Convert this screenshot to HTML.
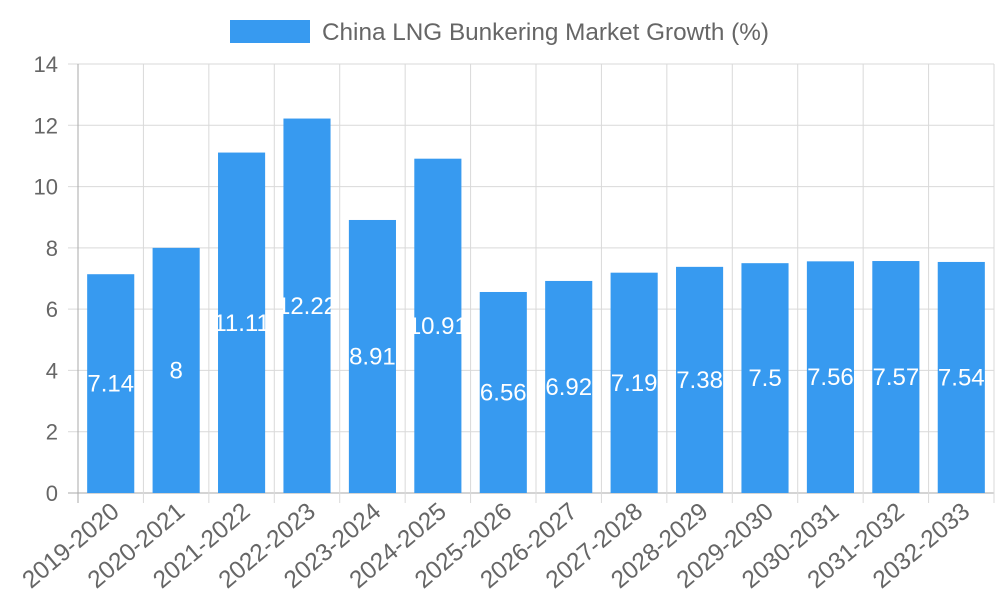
<!DOCTYPE html>
<html><head><meta charset="utf-8"><style>
body{margin:0;background:#fff;}
svg{display:block;font-family:"Liberation Sans",sans-serif;}
</style></head><body>
<svg id="chart" width="1000" height="600">
<g>
<rect x="230" y="20" width="80" height="23" fill="#379AF0"></rect>
<text x="322" y="40" font-size="24.3" fill="#666">China LNG Bunkering Market Growth (%)</text>
</g>
<g id="grid"></g>
<g id="bars"></g>
<g id="xlabels"></g>
<g id="ylabels"></g>
</svg>
<script>
const categories=["2019-2020","2020-2021","2021-2022","2022-2023","2023-2024","2024-2025","2025-2026","2026-2027","2027-2028","2028-2029","2029-2030","2030-2031","2031-2032","2032-2033"];
const values=[7.14,8,11.11,12.22,8.91,10.91,6.56,6.92,7.19,7.38,7.5,7.56,7.57,7.54];
const yTicks=[0,2,4,6,8,10,12,14];
const NS="http://www.w3.org/2000/svg";
const L=78,R=994,T=64,B=493,yMax=14;
const cw=(R-L)/categories.length;
const y=v=>B-(v/yMax)*(B-T);
const xc=i=>L+cw*(i+0.5);
function mk(tag,attrs,parent){const e=document.createElementNS(NS,tag);for(const k in attrs)e.setAttribute(k,attrs[k]);document.getElementById(parent).appendChild(e);return e;}
yTicks.forEach(t=>{
 const g=mk('line',{x1:68,x2:R,y1:y(t),y2:y(t),stroke:t===0?'#aaa':'#d9d9d9','stroke-width':1},'grid');
 
 
 const tx=mk('text',{x:58,y:y(t)+8,'font-size':22,fill:'#666','text-anchor':'end'},'ylabels');
 tx.textContent=t;
 
 
});
for(let i=0;i<=categories.length;i++){
 const x=L+cw*i;
 const g=mk('line',{x1:x,x2:x,y1:T,y2:B+10,stroke:i===0?'#aaa':'#d9d9d9','stroke-width':1},'grid');
 
 
}
const bw=cw*0.72;
values.forEach((v,i)=>{
 const r=mk('rect',{x:xc(i)-bw/2,y:y(v),width:bw,height:B-y(v),fill:'#379AF0'},'bars');
 
 
 const t=mk('text',{x:xc(i),y:(y(v)+B)/2+8,'font-size':24,fill:'#fff','text-anchor':'middle'},'bars');
 t.textContent=v;
 
 
 const ax=xc(i)+10, ay=514;
 const xl=mk('text',{x:ax,y:ay,'font-size':24.5,fill:'#666','text-anchor':'end',transform:`rotate(-40 ${ax} ${ay})`},'xlabels');
 xl.textContent=categories[i];
 
 
});
</script>
</body></html>
